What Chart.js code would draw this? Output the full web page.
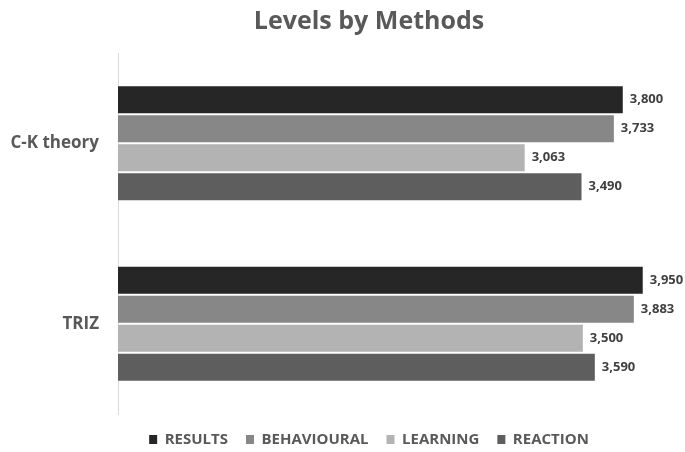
<!DOCTYPE html>
<html lang="en">
<head>
  <meta charset="UTF-8">
  <title>Levels by Methods</title>
  <script src="https://cdn.jsdelivr.net/npm/chart.js"></script>
  <style>
    body {
      margin: 0;
      padding: 0;
      background-color: #fff;
    }
    #contenedor {
      width: 685px;
      height: 452px;
    }
  </style>
</head>
<body>

  <div id="contenedor">
    <canvas id="grafico-niveles"></canvas>
  </div>

  <script>
    var metodos = ['C-K theory', 'TRIZ'];
    var resultados = [3800, 3950];
    var comportamiento = [3733, 3883];
    var aprendizaje = [3063, 3500];
    var reaccion = [3490, 3590];

    Chart.defaults.font.family = "'Open Sans', sans-serif";

    // etiquetas de valor al final de cada barra
    var etiquetasValor = {
      id: 'etiquetasValor',
      afterLayout: function(chart) {
        // el eje y se recorta a su caja; se deja espacio hasta el borde izquierdo
        chart.scales.y.left = 0;
      },
      afterDatasetsDraw: function(chart) {
        var ctx = chart.ctx;
        ctx.save();
        ctx.font = 'bold 13px "Open Sans", sans-serif';
        ctx.fillStyle = '#404040';
        ctx.textAlign = 'left';
        ctx.textBaseline = 'middle';
        chart.data.datasets.forEach(function(ds, i) {
          var meta = chart.getDatasetMeta(i);
          meta.data.forEach(function(bar, j) {
            ctx.fillText(ds.data[j].toLocaleString('en-US'), bar.x + 6, bar.y);
          });
        });
        ctx.restore();
      }
    };

    var ctx = document.getElementById('grafico-niveles').getContext('2d');
    var grafico = new Chart(ctx, {
      type: 'bar',
      data: {
        labels: metodos,
        datasets: [{
          label: 'RESULTS',
          data: resultados,
          backgroundColor: '#262626'
        }, {
          label: 'BEHAVIOURAL',
          data: comportamiento,
          backgroundColor: '#878787'
        }, {
          label: 'LEARNING',
          data: aprendizaje,
          backgroundColor: '#b3b3b3'
        }, {
          label: 'REACTION',
          data: reaccion,
          backgroundColor: '#5e5e5e'
        }]
      },
      options: {
        indexAxis: 'y',
        responsive: true,
        maintainAspectRatio: false,
        animation: false,
        datasets: {
          bar: {
            categoryPercentage: 0.643,
            barPercentage: 1,
            borderWidth: 1,
            borderColor: 'rgba(255,255,255,0.45)'
          }
        },
        layout: {
          padding: { left: 53, right: 0, top: 0, bottom: -5 }
        },
        plugins: {
          title: {
            display: true,
            text: 'Levels by Methods',
            color: '#595959',
            font: { size: 25, weight: 'bold' },
            padding: { top: 7, bottom: 16 }
          },
          legend: {
            position: 'bottom',
            labels: {
              color: '#595959',
              font: { size: 15, weight: 'bold' },
              boxWidth: 8,
              boxHeight: 9,
              padding: 18,
              generateLabels: function(chart) {
                var items = Chart.defaults.plugins.legend.labels.generateLabels(chart);
                items.forEach(function(it) { it.lineWidth = 0; });
                return items;
              }
            }
          },
          tooltip: { enabled: false }
        },
        scales: {
          x: {
            display: false,
            min: 0,
            max: 4260
          },
          y: {
            grid: { display: false },
            border: { display: true, color: '#d9d9d9', width: 1 },
            ticks: {
              color: '#595959',
              font: { size: 17, weight: 'bold' },
              padding: 11
            },
            afterFit: function(scale) {
              scale.width = 65;
            }
          }
        }
      },
      plugins: [etiquetasValor]
    });
  </script>

</body>
</html>
